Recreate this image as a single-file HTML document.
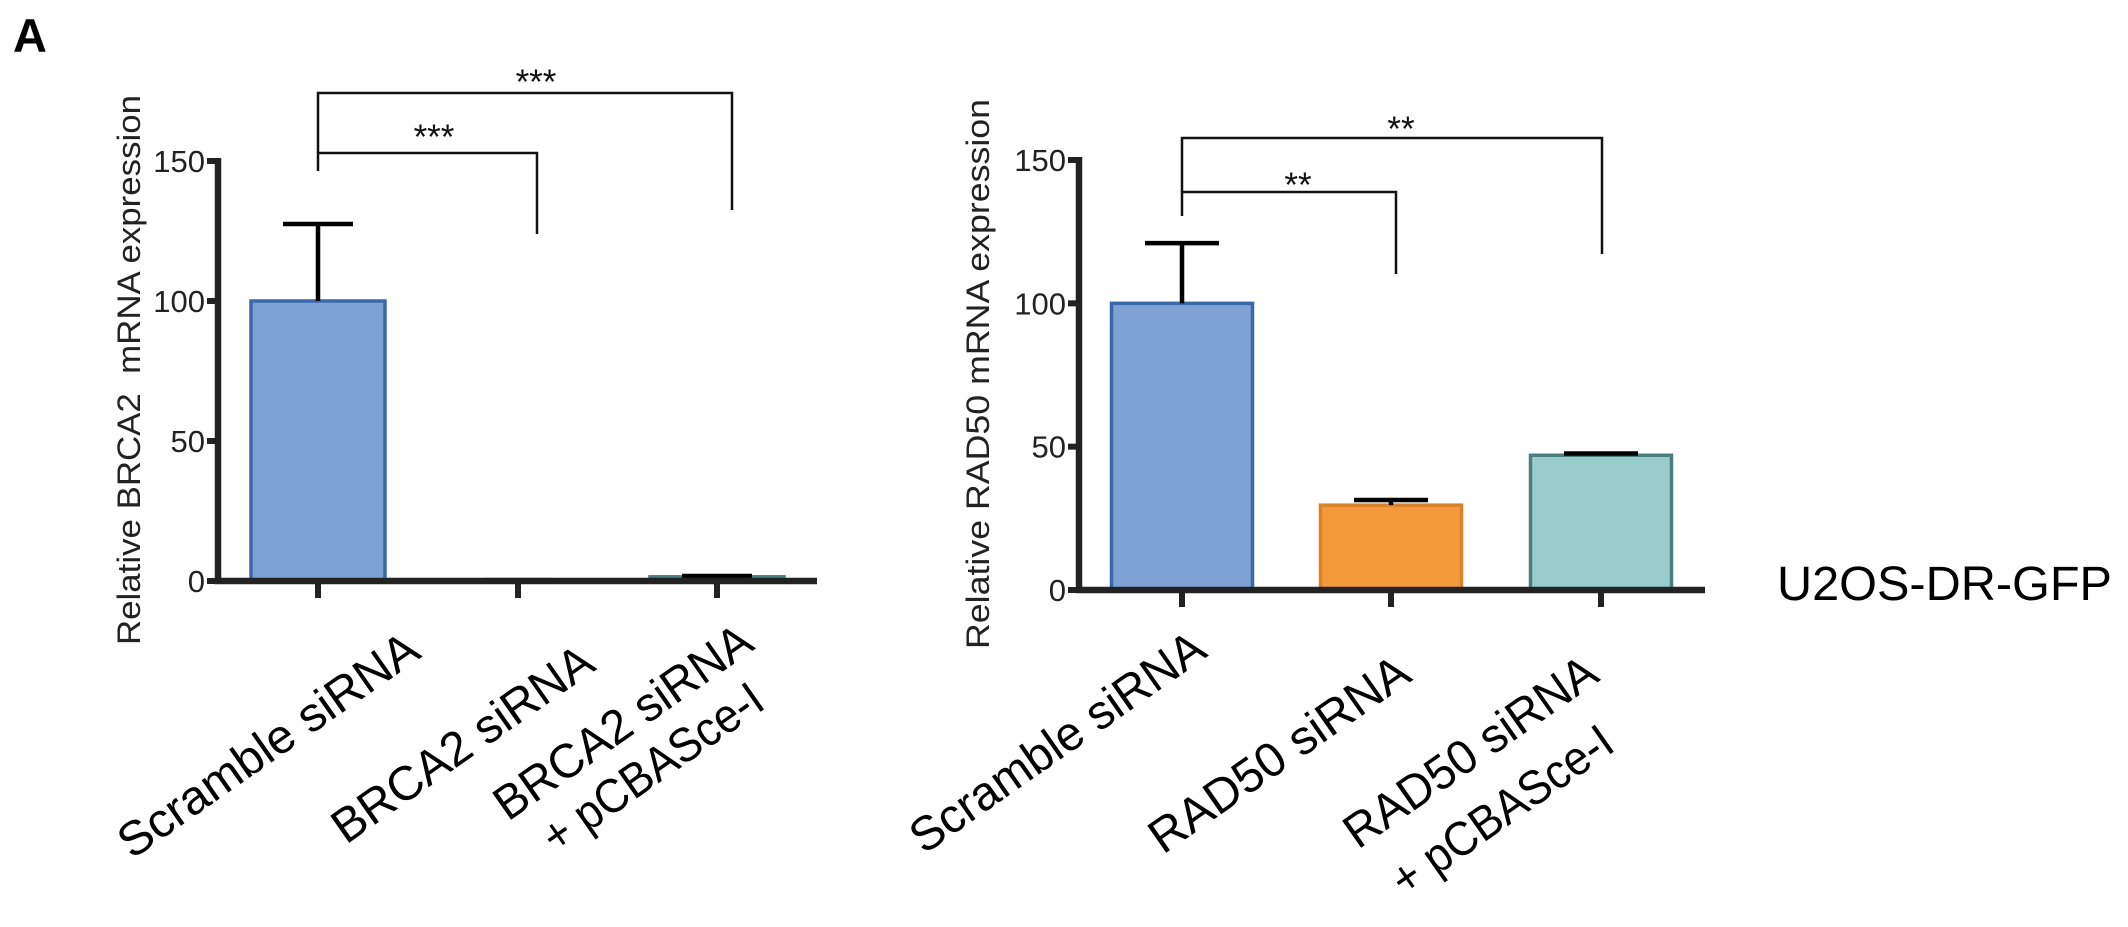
<!DOCTYPE html>
<html><head><meta charset="utf-8"><style>
html,body{margin:0;padding:0;background:#fff;}
svg{display:block;font-family:"Liberation Sans",sans-serif;}
</style></head><body>
<svg id="fig" width="2128" height="927" viewBox="0 0 2128 927" xmlns="http://www.w3.org/2000/svg">
<text x="13" y="52" font-size="47" font-weight="bold">A</text>
<text x="1777" y="600" font-size="48" textLength="335" lengthAdjust="spacingAndGlyphs">U2OS-DR-GFP</text>
</svg>
<script>
const leftCats=["Scramble siRNA","BRCA2 siRNA","BRCA2 siRNA + pCBASce-I"];
const leftVals=[100,0.3,1.5];
const leftErr=[127.5,0.3,1.8];
const rightCats=["Scramble siRNA","RAD50 siRNA","RAD50 siRNA + pCBASce-I"];
const rightVals=[100,29.6,47];
const rightErr=[121,31.4,47.6];
const yTicks=[0,50,100,150];
const fills=["#7ea2d4","#f59a3a","#99cdcb"];
const strokes=["#3a68a8","#d9822b","#4a7f7e"];
const NS="http://www.w3.org/2000/svg";
const svg=document.getElementById('fig');
function mk(tag,attrs,parent){const e=document.createElementNS(NS,tag);for(const k in attrs)e.setAttribute(k,attrs[k]);(parent||svg).appendChild(e);return e;}

function chart(cfg){
  const g=mk('g',{});
  
  
  const y=v=>cfg.y0-(cfg.y0-cfg.y150)*v/150;
  cfg.vals.forEach((v,i)=>{
    const cx=cfg.cx[i];
    const r=mk('rect',{x:cx-cfg.bw/2,y:y(v),width:cfg.bw,height:Math.max(cfg.y0-y(v),0.5),fill:fills[cfg.colorIdx[i]],stroke:strokes[cfg.colorIdx[i]],'stroke-width':3.5},g);
    
    
    const e=cfg.err[i];
    const eg=mk('path',{d:`M${cx},${y(v)}V${y(e)}M${cx-cfg.cap/2},${y(e)}H${cx+cfg.cap/2}`,stroke:'#000','stroke-width':4.5,fill:'none'},g);
    
    
    const t=mk('line',{x1:cx,x2:cx,y1:cfg.y0,y2:cfg.y0+17,stroke:'#222','stroke-width':6},g);
    
    
  });
  const ax=mk('path',{d:`M${cfg.ax},${cfg.y150-3}V${cfg.y0}H${cfg.xend}`,stroke:'#222','stroke-width':6.5,fill:'none'},g);
  
  
  yTicks.forEach(t=>{
    const l=mk('line',{x1:cfg.ax-11,x2:cfg.ax,y1:y(t),y2:y(t),stroke:'#222','stroke-width':6},g);
    
    
    const tx=mk('text',{x:cfg.ax-13,y:y(t)+11,'font-size':31,'text-anchor':'end',fill:'#222'},g);
    tx.textContent=t;
    
    
  });
  const yt=mk('text',{transform:`translate(${cfg.titleX},${cfg.titleMid}) rotate(-90)`,'text-anchor':'middle','font-size':32,textLength:550,lengthAdjust:'spacingAndGlyphs',fill:'#222'},g);
  yt.textContent=cfg.title;
  
  
  cfg.brackets.forEach((b,i)=>{
    const p=mk('path',{d:`M${cfg.cx[0]},${b.left}V${b.y}H${b.x2}V${b.right}`,stroke:'#111','stroke-width':2.5,fill:'none'},g);
    
    
    const s=mk('text',{x:b.sx,y:b.sy,'font-size':35,'text-anchor':'middle',fill:'#111'},g);
    s.textContent=b.stars;
    
    
  });
  cfg.labels.forEach((lb,i)=>{
    const t=mk('text',{transform:`translate(${lb[0]},${lb[1]}) rotate(-35)`,'font-size':48,textLength:lb[2],lengthAdjust:'spacingAndGlyphs',fill:'#000'},g);
    t.textContent=lb[3];
    
    
  });
}

chart({name:'brca2-chart',vals:leftVals,err:leftErr,cx:[318,518,717],bw:134,cap:70,colorIdx:[0,2,2],
  ax:218,y0:581,y150:161,xend:817,title:'Relative BRCA2\u00a0 mRNA expression',titleX:140,titleMid:370,
  brackets:[{y:153,x2:537,left:171,right:234,sx:434,sy:149,stars:'***'},{y:93,x2:732,left:153,right:210,sx:536,sy:94,stars:'***'}],
  labels:[[132,860,355,leftCats[0]],[346,845,307,leftCats[1]],[508,822,303,'BRCA2 siRNA'],[556,855,258,'+ pCBASce-I']]});
chart({name:'rad50-chart',vals:rightVals,err:rightErr,cx:[1182,1391,1601],bw:141,cap:74,colorIdx:[0,1,2],
  ax:1079,y0:590,y150:160,xend:1705,title:'Relative RAD50 mRNA expression',titleX:989,titleMid:374,
  brackets:[{y:192,x2:1396,left:216,right:274,sx:1298,sy:197,stars:'**'},{y:138,x2:1602,left:192,right:254,sx:1401,sy:141,stars:'**'}],
  labels:[[924,855,348,rightCats[0]],[1163,855,306,rightCats[1]],[1358,850,297,'RAD50 siRNA'],[1405,898,259,'+ pCBASce-I']]});
</script>
</body></html>
